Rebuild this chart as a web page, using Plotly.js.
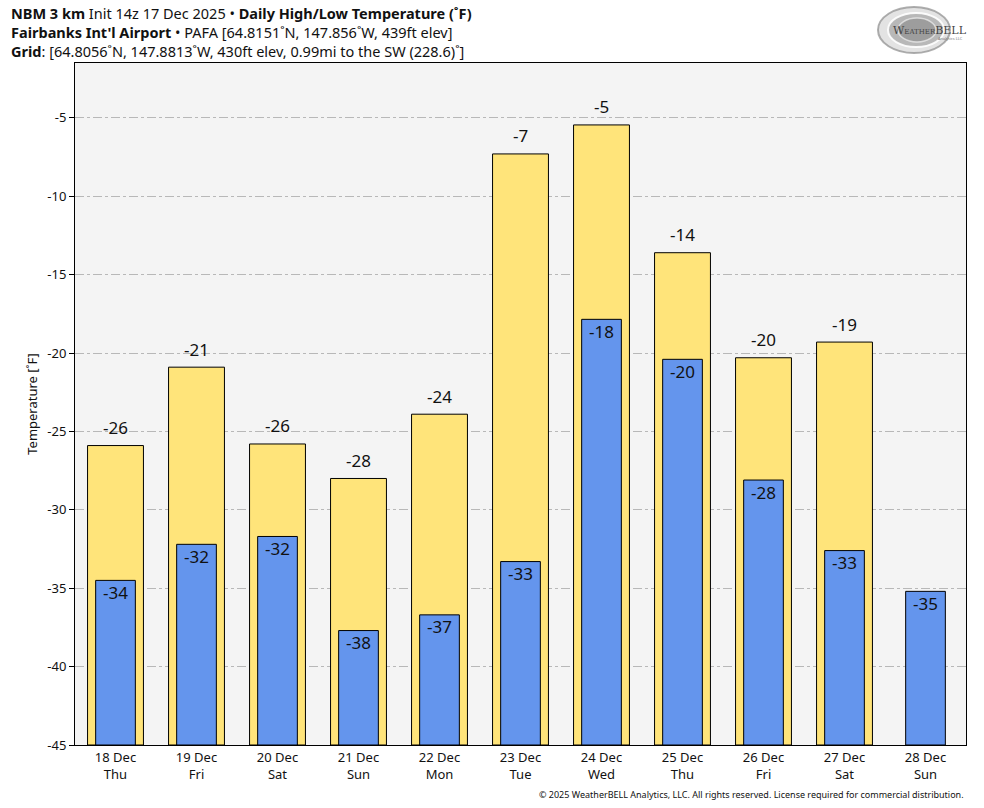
<!DOCTYPE html>
<html>
<head>
<meta charset="utf-8">
<script src="https://cdn.plot.ly/plotly-3.0.1.min.js"></script>
<style>html,body{margin:0;padding:0;background:#fff;}#chart{width:984px;height:808px;}</style>
</head>
<body>
<div id="chart"></div>
<script>
const dates = ["18 Dec","19 Dec","20 Dec","21 Dec","22 Dec","23 Dec","24 Dec","25 Dec","26 Dec","27 Dec","28 Dec"];
const days = ["Thu","Fri","Sat","Sun","Mon","Tue","Wed","Thu","Fri","Sat","Sun"];
const highs = [-25.9, -20.9, -25.8, -28.0, -23.9, -7.3, -5.45, -13.6, -20.3, -19.3, null];
const lows = [-34.5, -32.2, -31.7, -37.7, -36.7, -33.3, -17.85, -20.4, -28.1, -32.6, -35.2];
const yTicks = [-45, -40, -35, -30, -25, -20, -15, -10, -5];
const yMin = -45;

const idx = dates.map((d,i)=>i);
const tickText = dates.map((d,i)=>d + "<br>" + days[i]);
const fmt = v => String(Math.round(v));

const FONT = "Noto Sans, Open Sans, DejaVu Sans, sans-serif";

const traceHigh = {
  type: "bar", x: idx,
  y: highs.map(v => v === null ? null : v - yMin),
  base: yMin, width: 0.69,
  marker: {color: "#FFE47A", line: {color: "#000", width: 1}},
  hoverinfo: "skip", showlegend: false
};
const traceLow = {
  type: "bar", x: idx,
  y: lows.map(v => v - yMin),
  base: yMin, width: 0.49,
  marker: {color: "#6495ED", line: {color: "#000", width: 1}},
  hoverinfo: "skip", showlegend: false
};

const valueAnnots = [];
highs.forEach((v,i) => { if (v !== null) valueAnnots.push({
  x: i, y: v, xref: "x", yref: "y", showarrow: false, yanchor: "middle", yshift: 18,
  text: fmt(v), font: {size: 17, color: "#111"}
}); });
lows.forEach((v,i) => valueAnnots.push({
  x: i, y: v, xref: "x", yref: "y", showarrow: false, yanchor: "middle", yshift: -12,
  text: fmt(v), font: {size: 17, color: "#111"}
}));

const H = 682, W = 891;
const px = x => (x - 75) / W;
const py = y => (745 - y) / H;

const titleText =
  "<b>NBM 3 km</b> Init 14z 17 Dec 2025 • <b>Daily High/Low Temperature (˚F)</b><br>" +
  "<b>Fairbanks Int'l Airport</b> • PAFA [64.8151˚N, 147.856˚W, 439ft elev]<br>" +
  "<b>Grid</b>: [64.8056˚N, 147.8813˚W, 430ft elev, 0.99mi to the SW (228.6)˚]";

const layout = {
  width: 984, height: 808,
  margin: {l: 75, r: 18, t: 63, b: 63},
  paper_bgcolor: "#fff", plot_bgcolor: "#f4f4f4",
  font: {family: FONT, color: "#111", size: 13},
  barmode: "overlay",
  xaxis: {
    range: [-0.5, 10.5], tickmode: "array", tickvals: idx, ticktext: tickText,
    showgrid: false, zeroline: false, showline: true, linecolor: "#000", linewidth: 1, mirror: true,
    ticks: "", tickfont: {size: 13}
  },
  yaxis: {
    range: [-45, -1.5], tickmode: "array", tickvals: yTicks, ticktext: yTicks.map(String),
    showgrid: true, gridcolor: "#b8b8b8", griddash: "dashdot", gridwidth: 1,
    zeroline: false, showline: true, linecolor: "#000", linewidth: 1, mirror: true,
    ticks: "outside", ticklen: 5, tickcolor: "#000", tickfont: {size: 13},
    title: {text: "Temperature [˚F]", font: {size: 13}, standoff: 6}
  },
  annotations: valueAnnots.concat([
    {xref: "paper", yref: "paper", x: px(10), y: py(32), xanchor: "left", yanchor: "middle", align: "left",
     showarrow: false, borderpad: 0, text: titleText, font: {size: 14.5}},
    {xref: "paper", yref: "paper", x: px(966), y: py(794), xanchor: "right", yanchor: "middle", showarrow: false,
     text: "© 2025 WeatherBELL Analytics, LLC. All rights reserved. License required for commercial distribution.", font: {size: 9}},
    {xref: "paper", yref: "paper", x: px(930), y: py(30), xanchor: "center", yanchor: "middle", showarrow: false,
     text: "W<span style='font-size:7px'>EATHER</span>BELL", font: {size: 11, color: "#444", family: "DejaVu Serif, serif"}},
    {xref: "paper", yref: "paper", x: px(965), y: py(38), xanchor: "right", yanchor: "middle", showarrow: false,
     text: "Analytics LLC", font: {size: 4, color: "#777"}}
  ]),
  shapes: [
    {type: "circle", xref: "paper", yref: "paper", x0: px(878), x1: px(950), y0: py(53), y1: py(7),
     fillcolor: "rgba(200,200,200,0.5)", line: {color: "rgba(140,140,140,0.7)", width: 2}},
    {type: "circle", xref: "paper", yref: "paper", x0: px(888), x1: px(944), y0: py(47), y1: py(13),
     fillcolor: "rgba(150,150,150,0.55)", line: {color: "rgba(255,255,255,0.9)", width: 2}},
    {type: "circle", xref: "paper", yref: "paper", x0: px(898), x1: px(936), y0: py(42), y1: py(18),
     fillcolor: "rgba(130,130,130,0.5)", line: {color: "rgba(255,255,255,0.6)", width: 1.5}}
  ]
};

Plotly.newPlot("chart", [traceHigh, traceLow], layout, {displayModeBar: false, staticPlot: true});
</script>
</body>
</html>
